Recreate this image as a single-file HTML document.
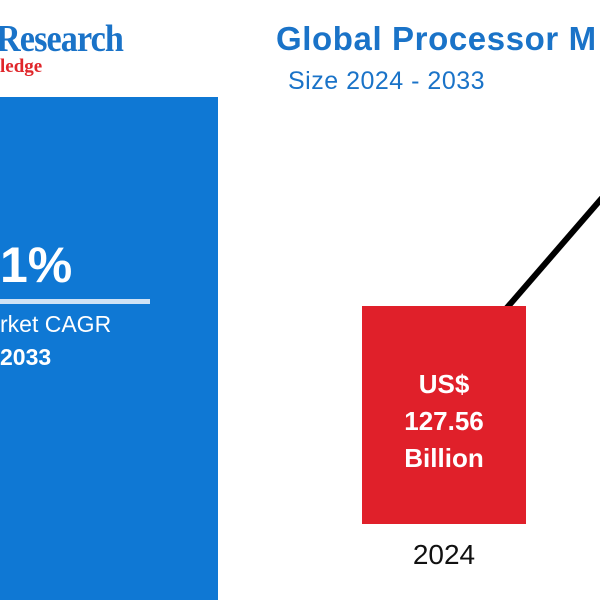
<!DOCTYPE html>
<html><head><style>
body{margin:0;width:600px;height:600px;background:#fff;position:relative;overflow:hidden;font-family:"Liberation Sans",sans-serif}
div{position:absolute}
</style></head><body>
<div style="left:-4px;top:17px;font-family:'Liberation Serif',serif;font-weight:bold;font-size:38px;color:#1a73c8;letter-spacing:-1px;transform:scaleX(0.9);transform-origin:left">Research</div>
<div style="left:0;top:56px;font-family:'Liberation Serif',serif;font-weight:bold;font-size:19px;color:#e0262a">ledge</div>
<div style="left:276px;top:20px;font-weight:bold;font-size:33px;color:#1a73c8;white-space:nowrap;letter-spacing:0.6px">Global Processor M</div>
<div style="left:288px;top:67px;font-size:25px;color:#1a73c8;white-space:nowrap;letter-spacing:0.5px">Size 2024 - 2033</div>
<div style="left:0;top:97px;width:218px;height:503px;background:#0f78d4"></div>
<div style="left:0;top:236px;font-weight:bold;font-size:50px;color:#fff">1%</div>
<div style="left:0;top:299px;width:150px;height:5px;background:#cfe2f5"></div>
<div style="left:0;top:311px;font-size:23px;color:#fff;white-space:nowrap">rket CAGR</div>
<div style="left:0;top:344px;font-weight:bold;font-size:23px;color:#fff">2033</div>
<svg style="position:absolute;left:0;top:0" width="600" height="600"><line x1="505" y1="310" x2="602" y2="198" stroke="#000" stroke-width="6"/></svg>
<div style="left:362px;top:306px;width:164px;height:218px;background:#e0202a"></div>
<div style="left:362px;top:366px;width:164px;text-align:center;color:#fff;font-weight:bold;font-size:26px;line-height:37px">US$<br>127.56<br>Billion</div>
<div style="left:362px;top:539px;width:164px;text-align:center;font-size:28px;color:#111">2024</div>
</body></html>
